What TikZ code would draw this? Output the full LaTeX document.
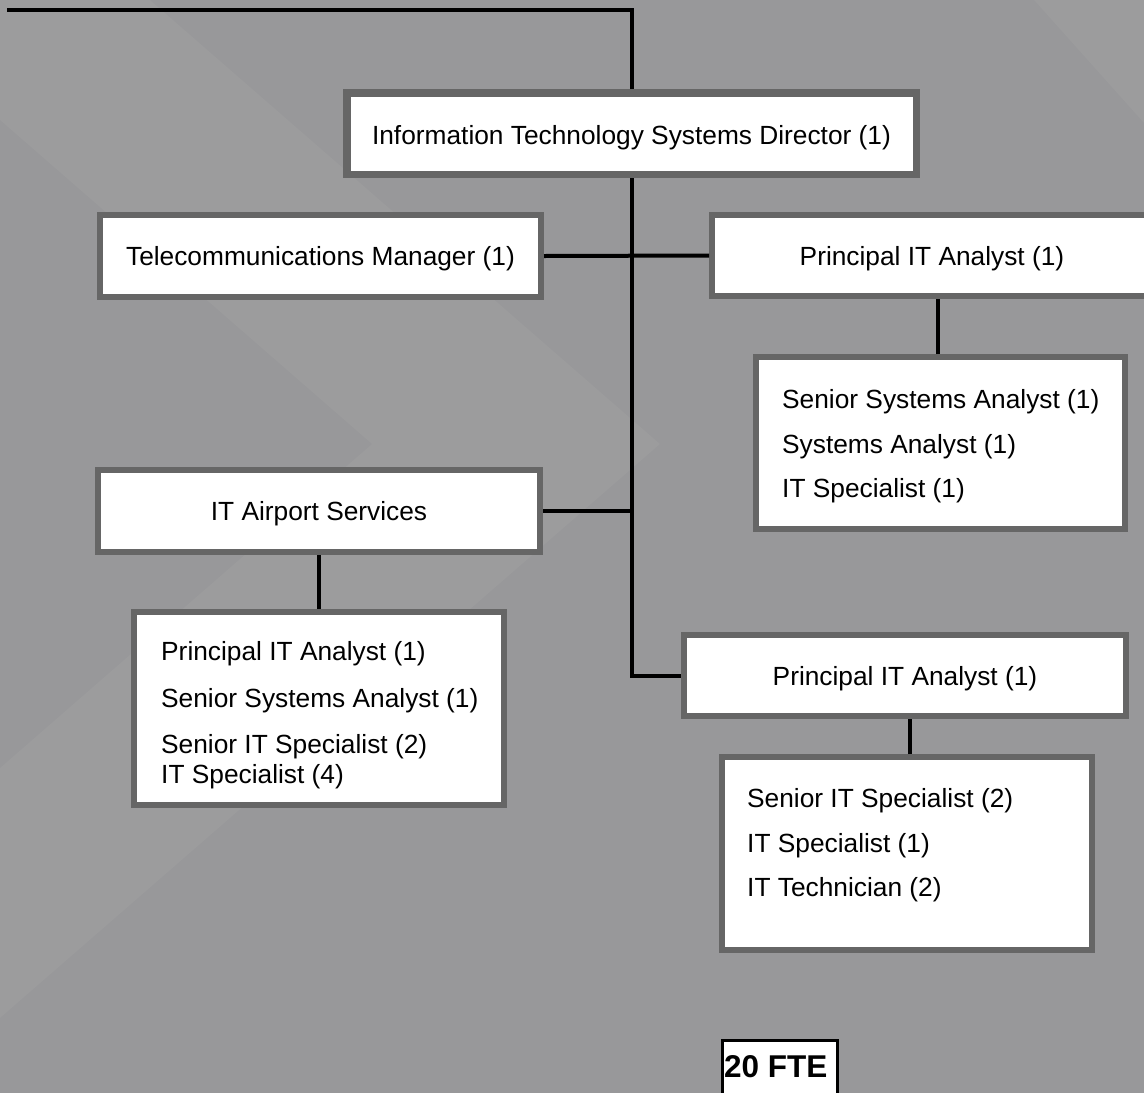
\documentclass[tikz,border=0pt]{standalone}
\usepackage{fontspec}
\setmainfont{Liberation Sans}
\newcommand\chartfont{\fontsize{26.3}{31}\selectfont}
\newcommand\ftefont{\fontsize{31.5}{36}\selectfont\bfseries}
\definecolor{pagebg}{RGB}{152,152,154}
\definecolor{bandlight}{RGB}{156,156,157}
\definecolor{boxedge}{RGB}{102,102,102}
\begin{document}
\begin{tikzpicture}[x=1pt,y=-1pt,
  box/.style={draw=boxedge, line width=6pt, outer sep=3pt, fill=white,
              inner sep=0pt, text depth=0pt, font=\chartfont},
  headbox/.style={box, line width=7.5pt, outer sep=3.75pt},
  ftebox/.style={draw=black, line width=3pt, outer sep=1.5pt, fill=white, inner sep=0pt},
  staff/.style={anchor=base west, inner sep=0pt, font=\chartfont},
  link/.style={draw=black, line width=4pt}]

% page and soft chevron bands
\useasboundingbox (0,0) rectangle (1144,1093);
\fill[pagebg] (0,0) rectangle (1144,1093);
\fill[bandlight] (0,0) -- (150,0) -- (660,444) -- (0,1018) -- (0,768) -- (372,444) -- (0,120) -- cycle;
\fill[bandlight] (1034,0) -- (1144,0) -- (1144,123) -- cycle;

% boxes
\node[headbox, minimum width=569.5pt, minimum height=81.5pt] (dir) at (631.5,133.5)
  {\raisebox{-2pt}{Information Technology Systems Director (1)}};
\node[box, minimum width=441pt, minimum height=82pt] (tel) at (320.5,256)
  {Telecommunications Manager (1)};
\node[box, minimum width=440pt, minimum height=81pt] (pia1) at (932,255.5)
  {Principal IT Analyst (1)};
\node[box, minimum width=369pt, minimum height=172pt] (sen) at (940.5,443) {};
\node[box, minimum width=442pt, minimum height=82pt] (air) at (319,511)
  {IT Airport Services};
\node[box, minimum width=370pt, minimum height=193pt] (airst) at (319,708.5) {};
\node[box, minimum width=442pt, minimum height=81pt] (pia2) at (905,675.5)
  {Principal IT Analyst (1)};
\node[box, minimum width=370pt, minimum height=193pt] (tech) at (907,853.5) {};
\node[ftebox, anchor=north west, minimum width=115pt, minimum height=80pt] (fte) at (720.5,1038.5) {};

% staff lists
\node[staff] (s1) at (782,408) {Senior Systems Analyst (1)};
\node[staff] (s2) at (782,453) {Systems Analyst (1)};
\node[staff] (s3) at (782,497) {IT Specialist (1)};

\node[staff] (a1) at (161,660) {Principal IT Analyst (1)};
\node[staff] (a2) at (161,707) {Senior Systems Analyst (1)};
\node[staff] (a3) at (161,753) {Senior IT Specialist (2)};
\node[staff] (a4) at (161,783) {IT Specialist (4)};

\node[staff] (t1) at (747,807) {Senior IT Specialist (2)};
\node[staff] (t2) at (747,852) {IT Specialist (1)};
\node[staff] (t3) at (747,896) {IT Technician (2)};

\node[anchor=base west, inner sep=0pt, font=\ftefont] (ftetext) at (724,1077) {20 FTE};

% reporting lines
\coordinate (feed) at (7,10);
\draw[link] (feed) -| (dir.north);
\draw[link] (dir.south) |- (pia2.west);
\draw[link] (tel.east) -- (pia1.west);
\draw[link] (air.east) -- (air.east -| dir.south);
\draw[link] ([xshift=-2.5pt]sen.north) -- ([xshift=-2.5pt]sen.north |- pia1.south);
\draw[link] (air.south) -- (airst.north);
\draw[link] ([xshift=3pt]tech.north) -- ([xshift=3pt]tech.north |- pia2.south);
\end{tikzpicture}
\end{document}
